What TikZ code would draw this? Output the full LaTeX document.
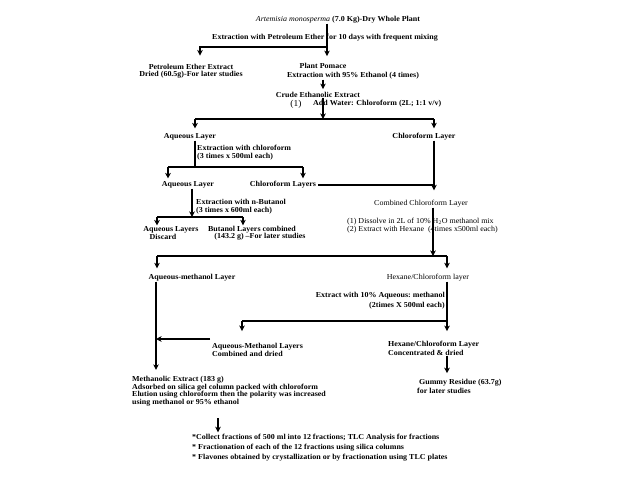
\documentclass[tikz,border=0pt]{standalone}
\usepackage{fontspec}
\setmainfont{Liberation Serif}[FakeStretch=1.05]
\usetikzlibrary{arrows.meta}
\tikzset{
  txt/.style  = {font=\bfseries\fontsize{7.6}{7.6}\selectfont, inner sep=0pt},
  txtm/.style = {font=\fontsize{7.6}{7.6}\selectfont, inner sep=0pt},
  txtl/.style = {txt, anchor=west, align=left},
  pipe/.style = {line width=1.2pt},
  flow/.style = {pipe, -{Stealth[length=5.5pt,width=5.5pt,inset=1.5pt]}},
}

\begin{document}
\begin{tikzpicture}[x=1pt,y=-1pt]
        \useasboundingbox (0,0) rectangle (640,480);
        % texts
        \node [txt] (plant)   at (338,20)  {{\mdseries\itshape Artemisia monosperma} (7.0 Kg)-Dry Whole Plant};
        \node [txt] (petrol)  at (325,38)  {Extraction with Petroleum Ether for 10 days with frequent mixing};
        \node [txt, align=center] (peext) at (191,71) {Petroleum Ether Extract\\Dried (60.5g)-For later studies};
        \node [txt] (pomace)  at (323,66)  {Plant Pomace};
        \node [txt] (ethanol) at (353,76)  {Extraction with 95\% Ethanol (4 times)};
        \node [txt] (crude)   at (318,95)  {Crude Ethanolic Extract};
        \node [inner sep=0pt, font=\fontsize{9}{9}\selectfont] (one) at (296,104) {(1)};
        \node [txtl] (water)  at (313,104) {Add Water: Chloroform (2L; 1:1 v/v)};
        \node [txt] (aq1)     at (190,137) {Aqueous Layer};
        \node [txt] (chl1)    at (424,137) {Chloroform Layer};
        \node [txtl] (chlext) at (197,152.5) {Extraction with chloroform\\(3 times x 500ml each)};
        \node [txt] (aq2)     at (188,185) {Aqueous Layer};
        \node [txt] (chlL)    at (283,185) {Chloroform Layers};
        \node [txtl] (butext) at (196,206.5) {Extraction with n-Butanol\\(3 times x 600ml each)};
        \node [txtm] (comb)   at (421,204) {Combined Chloroform Layer};
        \node [txtm, anchor=west, align=left] (dissolve) at (347,225.5)
              {(1) Dissolve in 2L of 10\% H\textsubscript{2}O methanol mix\\(2) Extract with Hexane\ \ (4times x500ml each)};
        \node [txt] (aqL)     at (171,230) {Aqueous Layers};
        \node [txt] (discard) at (163,237) {Discard};
        \node [txt] (butL)    at (252,230) {Butanol Layers combined};
        \node [txt] (butlate) at (260,237) {(143.2 g) --For later studies};
        \node [txt] (aqm)     at (192,278) {Aqueous-methanol Layer};
        \node [txtm] (hexc)   at (428,278) {Hexane/Chloroform layer};
        \node [txt, anchor=east, align=right, font=\bfseries\fontsize{7.6}{9.8}\selectfont] (aqmext) at (445,301)
              {Extract with 10\% Aqueous:\ methanol\\(2times X 500ml each)};
        \node [txtl, font=\bfseries\fontsize{7.6}{8.2}\selectfont] (aqmL) at (212,350) {Aqueous-Methanol Layers\\Combined and dried};
        \node [txtl, font=\bfseries\fontsize{7.6}{8.8}\selectfont] (hexL) at (388,348.5) {Hexane/Chloroform Layer\\Concentrated \& dried};
        \node [txtl, font=\bfseries\fontsize{7.6}{8.8}\selectfont] (gummy) at (417,386.5) {\ Gummy Residue (63.7g)\\for later studies};
        \node [txtl] (methx)  at (132,391) {Methanolic Extract (183 g)\\Adsorbed on silica gel column packed with chloroform\\
              Elution using chloroform then the polarity was increased\\using methanol or 95\% ethanol};
        \node [txtl, font=\bfseries\fontsize{7.6}{10}\selectfont] (fract) at (192,448)
              {*Collect fractions of 500 ml into 12 fractions; TLC Analysis for fractions\\
               * Fractionation of each of the 12 fractions using silica columns\\
               * Flavones obtained by crystallization or by fractionation using TLC plates};
        % split points
        \coordinate (c1)  at (327,47);   \coordinate (c2)  at (200,47);
        \coordinate (s1)  at (323,119);  \coordinate (s1l) at (195,119);  \coordinate (s1r) at (434,119);
        \coordinate (s2)  at (195,167);  \coordinate (s2l) at (168,167);  \coordinate (s2r) at (303,167);
        \coordinate (j1)  at (434,184);
        \coordinate (s3)  at (192,217);  \coordinate (s3l) at (157,217);  \coordinate (s3r) at (243,217);
        \coordinate (s4)  at (433,256);  \coordinate (s4l) at (157,256);  \coordinate (s4r) at (447,256);
        \coordinate (s5)  at (447,321);  \coordinate (s5l) at (242,321);
        \coordinate (m1)  at (156,339);  \coordinate (f1)  at (218,425);
        % connectors
        \draw [flow, shorten >=7pt] (plant.south -| c1) -- (c1 |- pomace.north);      %pomace
        \draw [flow, shorten >=8pt] (c1) -- (c2) -- (c2 |- peext.north);              %PE extract
        \draw [flow, shorten >=3pt] (ethanol.south -| pomace) -- (pomace |- crude.north);
        \draw [flow]                (crude.south -| s1) -- (s1);                      %
        \draw [pipe]                (s1l) -- (s1r);                                   %
        \draw [flow, shorten >=5pt] (s1l) -- (s1l |- aq1.north);                      %
        \draw [flow, shorten >=5pt] (s1r) -- (s1r |- chl1.north);                     %
        \draw [pipe]                (aq1.south -| s2) -- (s2);                        %
        \draw [pipe]                (s2l) -- (s2r);                                   %
        \draw [flow, shorten >=3pt] (s2l) -- (s2l |- aq2.north);                      %
        \draw [flow, shorten >=3pt] (s2r) -- (s2r |- chlL.north);                     %
        \draw [flow, shorten >=10pt] (chl1.south -| j1) -- (j1 |- comb.north);        %combined
        \draw [pipe]                ([xshift=2pt]chlL.east) -- (chlL.east -| j1);     %
        \draw [flow]                (aq2.south -| s3) -- (s3);                        %butanol
        \draw [pipe]                (s3l) -- (s3r);                                   %
        \draw [flow, shorten >=1pt] (s3l) -- (s3l |- aqL.north);                      %
        \draw [flow, shorten >=1pt] (s3r) -- (s3r |- butL.north);                     %
        \draw [flow]                (comb.south -| s4) -- (s4);                       %hexane
        \draw [pipe]                (s4l) -- (s4r);                                   %
        \draw [flow, shorten >=6pt] (s4l) -- (s4l |- aqm.north);                      %
        \draw [flow, shorten >=6pt] (s4r) -- (s4r |- hexc.north);                     %
        \draw [flow, shorten >=6pt] (aqm.south -| m1) -- (m1 |- methx.north);         %methanolic
        \draw [pipe]                (hexc.south -| s5) -- (s5) -- (s5l);              %
        \draw [flow, shorten >=12pt] (s5l) -- (s5l |- aqmL.north);                    %
        \draw [flow, shorten >=10pt] (s5) -- (s5 |- hexL.north);                      %
        \draw [flow]                ([xshift=-2pt]aqmL.west |- m1) -- (m1);           %
        \draw [flow, shorten >=6pt] (hexL.south -| s5) -- (s5 |- gummy.north);        %gummy
        \draw [flow, shorten <=12pt, shorten >=2pt] (methx.south -| f1) -- (f1 |- fract.north);
\end{tikzpicture}
\end{document}
